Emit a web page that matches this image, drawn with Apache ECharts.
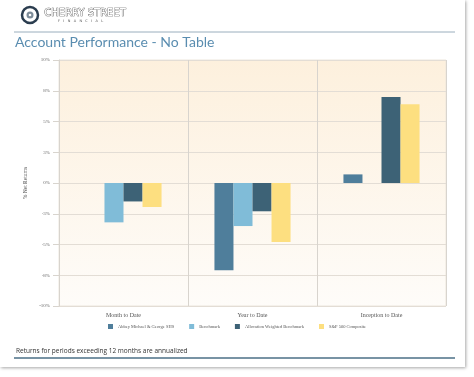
<!DOCTYPE html>
<html>
<head>
<meta charset="utf-8">
<script src="https://cdn.jsdelivr.net/npm/echarts@6/dist/echarts.min.js"></script>
<style>
  html, body { margin: 0; padding: 0; background: #ffffff; }
  .card {
    position: absolute; left: 0; top: 0;
    width: 465px; height: 367px;
    background: #fff;
    box-shadow: 1px 1px 3px rgba(0, 0, 0, 0.35);
  }
  #chart { position: absolute; left: 0; top: 0; width: 474px; height: 377px; }
</style>
</head>
<body>
<div class="card"></div>
<div id="chart"></div>
<script>
// categories and series values (% net returns)
const periods = ["Month to Date", "Year to Date", "Inception to Date"];
const seriesNames = ["Abbey Michael & George SHS", "Benchmark", "Allocation Weighted Benchmark", "S&P 500 Composite"];
const abbey = [null, -7.1, 0.7];
const benchmark = [-3.2, -3.5, null];
const allocation = [-1.5, -2.3, 7.0];
const sp500 = [-1.95, -4.8, 6.4];
const colors = ["#4f7e9b", "#80bcd8", "#3d6276", "#fddf80"];

const serif = "'Liberation Serif', 'DejaVu Serif', serif";

let chart = echarts.init(document.getElementById("chart"), null, { renderer: "canvas" });

let option = {
  animation: false,
  color: colors,
  textStyle: { fontFamily: serif },
  grid: {
    left: 59, right: 28, top: 60, bottom: 71,
    show: true,
    borderColor: "#ece6dc",
    borderWidth: 1,
    backgroundColor: {
      type: "linear", x: 0, y: 0, x2: 0, y2: 1,
      colorStops: [
        { offset: 0, color: "#fdf0dd" },
        { offset: 1, color: "#fefcf9" }
      ]
    }
  },
  legend: {
    left: 103, top: 319,
    itemWidth: 5, itemHeight: 5, itemGap: 15,
    icon: "rect",
    textStyle: { fontSize: 4.5, color: "#555", fontFamily: serif },
    data: seriesNames
  },
  xAxis: {
    type: "category",
    data: periods,
    axisLine: { show: false },
    axisTick: { show: true, length: 7, lineStyle: { color: "#d8d4ce" } },
    splitLine: { show: true, lineStyle: { color: "#d8d4ce" } },
    axisLabel: { fontSize: 6, color: "#555", margin: 6, fontFamily: serif }
  },
  yAxis: {
    type: "value",
    min: -10, max: 10, interval: 2.5,
    name: "% Net Returns",
    nameLocation: "middle",
    nameGap: 27,
    nameTextStyle: { fontSize: 5.5, color: "#555", fontFamily: serif },
    axisLine: { show: true, lineStyle: { color: "#d8d4ce" } },
    axisTick: { show: true, length: 6, lineStyle: { color: "#d8d4ce" } },
    splitLine: { show: true, lineStyle: { color: "#e3ddd5" } },
    axisLabel: {
      fontSize: 5, color: "#666", margin: 9, fontFamily: serif,
      formatter: v => (v < 0 ? "-" : "") + Math.round(Math.abs(v)) + "%"
    }
  },
  series: [
    { name: seriesNames[0], type: "bar", data: abbey, barGap: "0%", barCategoryGap: "41%" },
    { name: seriesNames[1], type: "bar", data: benchmark },
    { name: seriesNames[2], type: "bar", data: allocation },
    { name: seriesNames[3], type: "bar", data: sp500 }
  ],
  graphic: [
    // logo
    { type: "circle", shape: { cx: 30, cy: 15, r: 8 }, style: { fill: "#fff", stroke: "#2b3d4f", lineWidth: 2.5 } },
    { type: "circle", shape: { cx: 30, cy: 15, r: 3.5 }, style: { fill: "#7d8c99" } },
    { type: "circle", shape: { cx: 30, cy: 15, r: 1.3 }, style: { fill: "#fff" } },
    { type: "text", left: 44, top: 8, style: { text: "CHERRY STREET", fontSize: 10, fontFamily: "'DejaVu Sans', sans-serif", fill: "#fff", stroke: "#444", lineWidth: 0.7 } },
    { type: "text", left: 58, top: 19, style: { text: "F   I   N   A   N   C   I   A   L", fontSize: 3.5, fontFamily: "'DejaVu Sans', sans-serif", fill: "#555" } },
    // header rule
    { type: "line", shape: { x1: 14, y1: 32, x2: 455, y2: 32 }, style: { stroke: "#9aaebd", lineWidth: 1 } },
    // title
    { type: "text", left: 15, top: 35, style: { text: "Account Performance - No Table", fontSize: 14, fontFamily: "Lato, 'Open Sans', sans-serif", fill: "#5a8db0" } },
    // footer
    { type: "text", left: 16, top: 348, style: { text: "Returns for periods exceeding 12 months are annualized", fontSize: 6.5, fontFamily: "'Open Sans', sans-serif", fill: "#333" } },
    { type: "line", shape: { x1: 14, y1: 358, x2: 455, y2: 358 }, style: { stroke: "#4b6f86", lineWidth: 1.5 } }
  ]
};

chart.setOption(option);
</script>
</body>
</html>
